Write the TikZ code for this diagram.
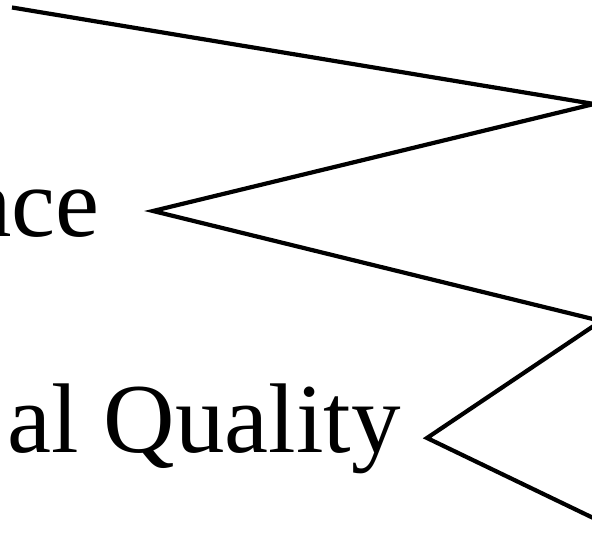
\documentclass[tikz,border=0pt]{standalone}
\usepackage{fontspec}
\setmainfont{Liberation Serif}
\tikzset{
  zig/.style={line width=4.2pt, line join=miter, line cap=butt, black},
  lbl/.style={inner sep=0pt, anchor=base east, font=\fontsize{99}{110}\selectfont}
}
\begin{document}
\begin{tikzpicture}[x=1pt,y=-1pt]
\useasboundingbox (0,0) rectangle (592,534);
\clip (0,0) rectangle (592,534);
\node[lbl] (ace) at (100,237) {nce};
\node[lbl] (qual) at (401,453) {al Quality};
\coordinate (a) at (12,7.5);
\coordinate (b) at (594,104);
\coordinate (c) at (153,211);
\coordinate (d) at (601,321);
\coordinate (f) at (427,438);
\coordinate (g) at (612,527);
\draw[zig] (a) -- (b) -- (c) -- (d) -- (f) -- (g);
\end{tikzpicture}
\end{document}
